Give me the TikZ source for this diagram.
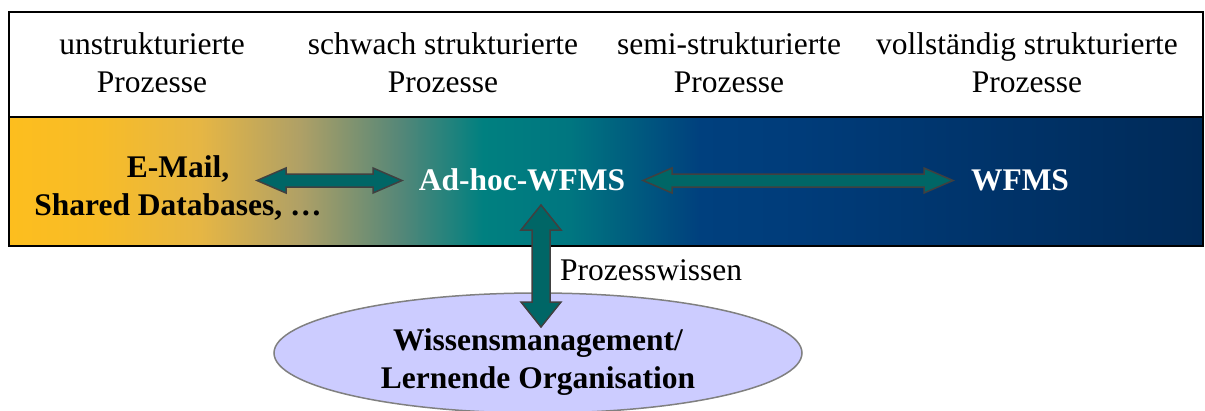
\documentclass[tikz,border=0pt]{standalone}
\usepackage{fontspec}
\setmainfont{Liberation Serif}
\usetikzlibrary{calc,shapes.geometric}
\definecolor{g0}{RGB}{253,190,30}
\definecolor{g1}{RGB}{247,188,40}
\definecolor{g2}{RGB}{230,182,68}
\definecolor{g3}{RGB}{175,160,102}
\definecolor{g4}{RGB}{85,135,120}
\definecolor{g5}{RGB}{0,128,128}
\definecolor{g6}{RGB}{0,118,128}
\definecolor{g7}{RGB}{0,64,126}
\definecolor{g8}{RGB}{0,60,122}
\definecolor{g9}{RGB}{0,42,88}
\definecolor{arrowfill}{RGB}{0,102,102}
\definecolor{arrowedge}{RGB}{64,64,64}
\definecolor{ellfill}{RGB}{204,204,255}
\definecolor{elledge}{RGB}{128,128,128}
\pgfdeclarehorizontalshading{bandshade}{100bp}{color(0bp)=(g0); color(25bp)=(g0); color(28.81bp)=(g1); color(33bp)=(g2); color(37.19bp)=(g3); color(41.37bp)=(g4); color(44.85bp)=(g5); color(48.49bp)=(g6); color(53.94bp)=(g7); color(58.12bp)=(g8); color(75bp)=(g9); color(100bp)=(g9)}
\newcommand\myhdblarrow[2]{\draw[blockarrow] let \p1=(#1), \p2=(#2) in (\p1) -- (\x1+29pt,\y1+12.5pt) -- (\x1+29pt,\y1+6.5pt) -- (\x2-29pt,\y2+6.5pt) -- (\x2-29pt,\y2+12.5pt) -- (\p2) -- (\x2-29pt,\y2-12.5pt) -- (\x2-29pt,\y2-6.5pt) -- (\x1+29pt,\y1-6.5pt) -- (\x1+29pt,\y1-12.5pt) -- cycle;}
\newcommand\myvdblarrow[2]{\draw[blockarrow] let \p1=(#1), \p2=(#2) in (\p1) -- (\x1+20pt,\y1-25pt) -- (\x1+9pt,\y1-25pt) -- (\x2+9pt,\y2+25pt) -- (\x2+20pt,\y2+25pt) -- (\p2) -- (\x2-20pt,\y2+25pt) -- (\x2-9pt,\y2+25pt) -- (\x1-9pt,\y1-25pt) -- (\x1-20pt,\y1-25pt) -- cycle;}
\begin{document}
\begin{tikzpicture}[x=1pt,y=-1pt,
  lbl/.style={font=\fontsize{31.5}{38}\selectfont, inner sep=0pt, anchor=base},
  blbl/.style={font=\fontsize{31.5}{38}\selectfont\bfseries, inner sep=0pt, anchor=base},
  blockarrow/.style={fill=arrowfill, draw=arrowedge, line width=1.5pt, line join=miter},
  frame/.style={draw=black, line width=2pt}]
\useasboundingbox (0,0) rectangle (1205,410);
\begin{scope}
\clip (0,0) rectangle (1205,410);
% band
\shade[shading=bandshade] (9,117) rectangle (1203,246);
\draw[frame] (9,12) rectangle (1203,246);
\draw[frame] (9,117) -- (1203,117);
% top labels
\node[lbl] (p1) at (152,54) {\begin{tabular}[t]{@{}c@{}}unstrukturierte\\Prozesse\end{tabular}};
\node[lbl] (p2) at (443,54) {\begin{tabular}[t]{@{}c@{}}schwach strukturierte\\Prozesse\end{tabular}};
\node[lbl] (p3) at (729,54) {\begin{tabular}[t]{@{}c@{}}semi-strukturierte\\Prozesse\end{tabular}};
\node[lbl] (p4) at (1027,54) {\begin{tabular}[t]{@{}c@{}}vollständig strukturierte\\Prozesse\end{tabular}};
% band labels
\node[blbl] (email) at (178,177) {\begin{tabular}[t]{@{}c@{}}E-Mail,\\Shared Databases, …\end{tabular}};
\node[blbl, text=white] (adhoc) at (522,190) {Ad-hoc-WFMS};
\node[blbl, text=white] (wfms) at (1020,190) {WFMS};
% ellipse
\node[ellipse, draw=elledge, fill=ellfill, line width=1.5pt, minimum width=528pt, minimum height=120pt, inner sep=0pt] (km) at (538,353) {};
\node[blbl] (kmtext) at (538,350) {\begin{tabular}[t]{@{}c@{}}Wissensmanagement/\\Lernende Organisation\end{tabular}};
% arrows
\coordinate (a1l) at (257,180.5);
\coordinate (a1r) at (402,180.5);
\coordinate (a2l) at (643,180.5);
\coordinate (a2r) at (953,180.5);
\coordinate (a3t) at (541,205);
\coordinate (a3b) at (541,327);
\myhdblarrow{a1l}{a1r}
\myhdblarrow{a2l}{a2r}
\myvdblarrow{a3t}{a3b}
\node[lbl, anchor=base west] (pw) at (560,280) {Prozesswissen};
\end{scope}
\end{tikzpicture}
\end{document}
